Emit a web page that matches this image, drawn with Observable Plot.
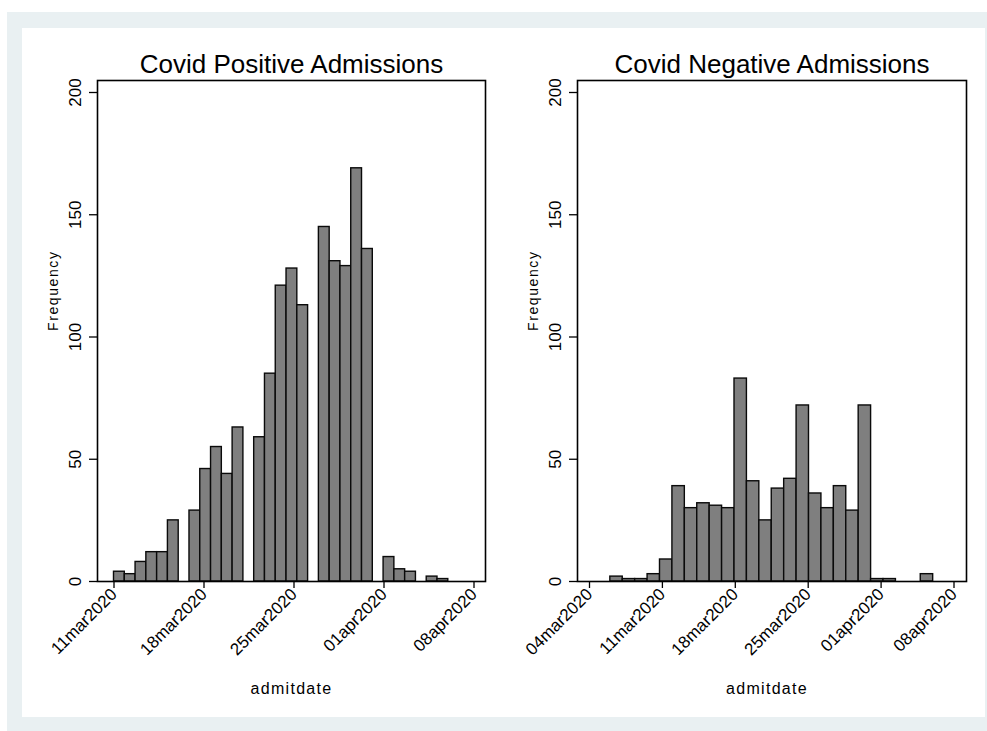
<!DOCTYPE html>
<html><head><meta charset="utf-8">
<script src="https://cdn.jsdelivr.net/npm/d3@7"></script>
<script src="https://cdn.jsdelivr.net/npm/@observablehq/plot@0.6"></script>
<style>
html,body{margin:0;padding:0;background:#fff;}
#page{position:relative;width:987px;height:731px;overflow:hidden;font-family:"Liberation Sans",Arial,sans-serif;}
#band{position:absolute;left:7px;top:12px;width:980px;height:719px;background:#e9f0f2;}
#inner{position:absolute;left:22px;top:28px;width:963px;height:689px;background:#fff;}
#left{position:absolute;left:0;top:0;}
#right{position:absolute;left:490px;top:0;}
</style></head><body>
<div id="page"><div id="band"></div><div id="inner"></div><div id="left"></div><div id="right"></div></div>
<script>
const titles = ["Covid Positive Admissions", "Covid Negative Admissions"];
const xTitle = "admitdate";
const yTitle = "Frequency";
const yTicks = [0, 50, 100, 150, 200];
const posXTicks = ["2020-03-11", "2020-03-18", "2020-03-25", "2020-04-01", "2020-04-08"];
const negXTicks = ["2020-03-04", "2020-03-11", "2020-03-18", "2020-03-25", "2020-04-01", "2020-04-08"];
// histogram range (min, max admit date) for each panel
const posRange = ["2020-03-11", "2020-04-06"];
const negRange = ["2020-03-06", "2020-04-06"];
// counts per histogram bin (31 bins / 26 bins)
const posCounts = [4, 3, 8, 12, 12, 25, 0, 29, 46, 55, 44, 63, 0, 59, 85, 121, 128, 113, 0, 145, 131, 129, 169, 136, 0, 10, 5, 4, 0, 2, 1];
const negCounts = [2, 1, 1, 3, 9, 39, 30, 32, 31, 30, 83, 41, 25, 38, 42, 72, 36, 30, 39, 29, 72, 1, 1, 0, 0, 3];

const fmt = d => d3.utcFormat("%d%b%Y")(d).toLowerCase();
const toDate = s => new Date(Date.parse(s));

function bins(range, counts) {
  const t0 = Date.parse(range[0]), t1 = Date.parse(range[1]);
  const w = (t1 - t0) / counts.length;
  return counts.map((c, i) => ({x1: new Date(t0 + i * w), x2: new Date(t0 + (i + 1) * w), count: c}))
    .filter(d => d.count > 0);
}

function panel(sel, o) {
  const chart = Plot.plot({
    width: o.width, height: 731,
    marginLeft: o.mLeft, marginRight: o.mRight, marginTop: 80, marginBottom: 150,
    style: {background: "transparent", fontFamily: "Liberation Sans, Arial, sans-serif", color: "#000", overflow: "visible"},
    x: {type: "utc", domain: [toDate(o.ticks[0]), toDate(o.ticks[o.ticks.length - 1])], range: o.xRange},
    y: {domain: [0, 200], range: [581, 92]},
    marks: [
      Plot.rectY(o.data, {x1: "x1", x2: "x2", y: "count", fill: "#7f7f7f", stroke: "#0a0a0a", strokeWidth: 1.4, inset: 0}),
      Plot.frame({stroke: "#000", strokeWidth: 1.6}),
      Plot.axisX({ticks: o.ticks.map(toDate), tickFormat: fmt, tickSize: 7, tickPadding: 3, tickRotate: -45, fontSize: 17, label: null, strokeWidth: 1.3}),
      Plot.axisY({ticks: yTicks, tickSize: 8, tickFormat: () => "", label: null, strokeWidth: 1.3}),
      Plot.text(yTicks, {y: d => d, frameAnchor: "left", dx: -17, rotate: -90, textAnchor: "middle", lineAnchor: "bottom", fontSize: 17, text: d => String(d)}),
      Plot.text([yTitle], {frameAnchor: "left", dx: -44, rotate: -90, fontSize: 14, text: d => d}),
      Plot.text([xTitle], {frameAnchor: "bottom", dx: o.xtDx, dy: 112, lineAnchor: "bottom", fontSize: 16, text: d => d}),
      Plot.text([o.title], {frameAnchor: "top", dy: -8, lineAnchor: "bottom", fontSize: 26, text: d => d})
    ]
  });
  d3.select(chart).selectAll("text").each(function() {
    const t = this.textContent;
    if (t === xTitle) this.setAttribute("letter-spacing", "1.3");
    if (t === yTitle) this.setAttribute("letter-spacing", "1.6");
  });
  document.querySelector(sel).appendChild(chart);
}

panel("#left", {width: 490, mLeft: 97, mRight: 5, xRange: [113.5, 473.5], ticks: posXTicks,
  data: bins(posRange, posCounts), title: titles[0], xtDx: 0});
panel("#right", {width: 497, mLeft: 87, mRight: 21, xRange: [99, 463.5], ticks: negXTicks,
  data: bins(negRange, negCounts), title: titles[1], xtDx: -5});
</script>
</body></html>
